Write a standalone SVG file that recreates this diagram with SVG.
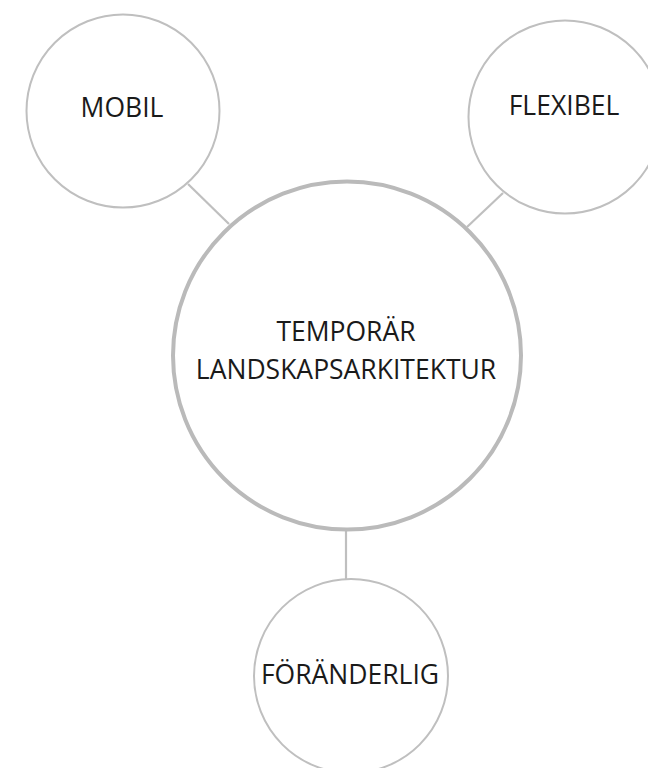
<svg xmlns="http://www.w3.org/2000/svg" width="648" height="768" viewBox="0 0 648 768">
<style>
.node { fill: #ffffff; stroke: #bfbfbf; stroke-width: 2; }
.main { fill: #ffffff; stroke: #bababa; stroke-width: 4; }
.conn { stroke: #bfbfbf; stroke-width: 2.2; fill: none; }
.lbl { font-family: "Open Sans", "Liberation Sans", sans-serif; font-size: 26.5px; fill: #1a1a1a; text-anchor: middle; }
</style>
<rect width="648" height="768" fill="#ffffff"/>
<g id="connectors">
<line class="conn" x1="188" y1="184" x2="229" y2="224"/>
<line class="conn" x1="503" y1="193" x2="467" y2="227"/>
<line class="conn" x1="346" y1="530" x2="346" y2="580"/>
</g>
<g id="node-mobil">
<circle class="node" cx="123" cy="111" r="96.5"/>
<text class="lbl" x="122" y="117">MOBIL</text>
</g>
<g id="node-flexibel">
<circle class="node" cx="565" cy="117" r="96.5"/>
<text class="lbl" x="564" y="114.5">FLEXIBEL</text>
</g>
<g id="node-main">
<circle class="main" cx="347" cy="355.5" r="174"/>
<text class="lbl" x="346" y="341">TEMPORÄR</text>
<text class="lbl" x="346" y="378.5">LANDSKAPSARKITEKTUR</text>
</g>
<g id="node-foranderlig">
<circle class="node" cx="351" cy="676" r="97"/>
<text class="lbl" x="350" y="684">FÖRÄNDERLIG</text>
</g>
</svg>
